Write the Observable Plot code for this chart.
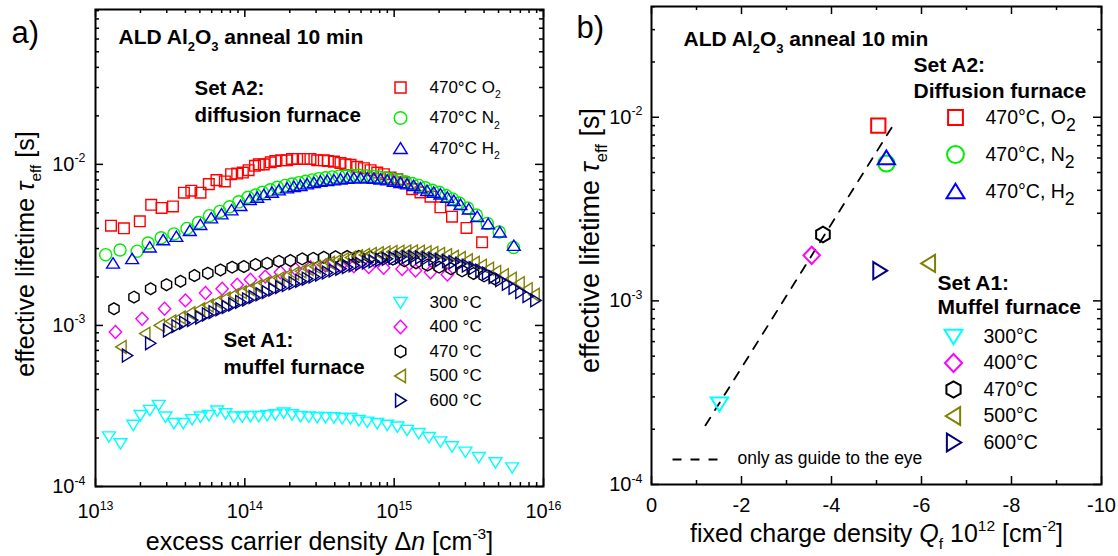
<!DOCTYPE html>
<html><head><meta charset="utf-8">
<script src="https://cdn.jsdelivr.net/npm/d3@7"></script>
<script src="https://cdn.jsdelivr.net/npm/@observablehq/plot@0.6"></script>
<style>
body{margin:0;background:#fff;}
#wrap{position:relative;width:1118px;height:556px;overflow:hidden;background:#fff;}
#wrap svg{position:absolute;top:0;}
</style></head><body><div id="wrap"></div>
<script>
// ---------- Panel a data: [excess carrier density (cm^-3), effective lifetime (s)] ----------
const sO2 = [[1.27e13,4.16e-3],[1.55e13,4.01e-3],[1.98e13,4.43e-3],[2.36e13,5.61e-3],[2.77e13,5.36e-3],[3.30e13,5.48e-3],[3.91e13,6.67e-3],[4.38e13,6.86e-3],[5.05e13,6.67e-3],[5.74e13,7.54e-3],[6.46e13,7.98e-3],[7.35e13,7.83e-3],[8.09e13,8.69e-3],[8.89e13,8.77e-3],[9.7e13,8.9e-3],[1.06e14,9.2e-3],[1.17e14,9.8e-3],[1.24e14,1.0e-2],[1.34e14,1.0e-2],[1.49e14,1.03e-2],[1.60e14,1.05e-2],[1.75e14,1.06e-2],[1.92e14,1.06e-2],[2.07e14,1.08e-2],[2.24e14,1.08e-2],[2.48e14,1.08e-2],[2.75e14,1.08e-2],[3.05e14,1.06e-2],[3.38e14,1.06e-2],[3.6e14,1.05e-2],[3.95e14,1.04e-2],[4.37e14,1.02e-2],[4.72e14,1.0e-2],[5.1e14,9.93e-3],[5.65e14,9.66e-3],[6.27e14,9.47e-3],[6.95e14,9.2e-3],[7.7e14,8.9e-3],[8.53e14,8.69e-3],[9.45e14,8.28e-3],[1.05e15,8.09e-3],[1.16e15,7.73e-3],[1.32e15,7.02e-3],[1.5e15,6.7e-3],[1.75e15,6.3e-3],[2.04e15,5.41e-3],[2.44e15,4.73e-3],[3.05e15,4.03e-3],[3.88e15,3.28e-3]];
const sN2 = [[1.17e13,2.75e-3],[1.46e13,2.94e-3],[1.9e13,2.89e-3],[2.25e13,3.25e-3],[2.75e13,3.5e-3],[3.35e13,3.7e-3],[4.1e13,4.0e-3],[4.9e13,4.35e-3],[5.8e13,4.8e-3],[6.8e13,5.1e-3],[7.9e13,5.45e-3],[9.1e13,5.85e-3],[1.05e14,6.25e-3],[1.18e14,6.45e-3],[1.31e14,6.7e-3],[1.48e14,6.95e-3],[1.65e14,7.2e-3],[1.86e14,7.4e-3],[2.07e14,7.55e-3],[2.3e14,7.7e-3],[2.55e14,7.85e-3],[2.83e14,8.0e-3],[3.13e14,8.15e-3],[3.47e14,8.25e-3],[3.85e14,8.35e-3],[4.27e14,8.45e-3],[4.73e14,8.5e-3],[5.25e14,8.55e-3],[5.8e14,8.55e-3],[6.45e14,8.5e-3],[7.15e14,8.45e-3],[7.9e14,8.35e-3],[8.75e14,8.25e-3],[9.7e14,8.1e-3],[1.08e15,7.95e-3],[1.19e15,7.8e-3],[1.32e15,7.6e-3],[1.46e15,7.4e-3],[1.62e15,7.15e-3],[1.8e15,6.9e-3],[2.0e15,6.7e-3],[2.22e15,6.4e-3],[2.46e15,6.1e-3],[2.73e15,5.75e-3],[3.1e15,5.35e-3],[3.55e15,4.85e-3],[4.2e15,4.3e-3],[5.05e15,3.8e-3],[6.3e15,3.05e-3]];
const sH2 = [[1.31e13,2.43e-3],[1.76e13,2.59e-3],[2.31e13,3.06e-3],[2.84e13,3.39e-3],[3.48e13,3.56e-3],[4.28e13,3.87e-3],[5.04e13,4.22e-3],[5.95e13,4.64e-3],[6.98e13,4.91e-3],[8.14e13,5.2e-3],[9.35e13,5.53e-3],[1.08e14,6.03e-3],[1.21e14,6.23e-3],[1.34e14,6.47e-3],[1.52e14,6.69e-3],[1.69e14,6.92e-3],[1.92e14,7.12e-3],[2.13e14,7.26e-3],[2.36e14,7.36e-3],[2.61e14,7.54e-3],[2.9e14,7.68e-3],[3.21e14,7.83e-3],[3.56e14,7.91e-3],[3.95e14,7.98e-3],[4.37e14,8.09e-3],[4.85e14,8.17e-3],[5.37e14,8.21e-3],[5.96e14,8.21e-3],[6.6e14,8.21e-3],[7.31e14,8.17e-3],[8.1e14,8.09e-3],[8.98e14,7.98e-3],[9.95e14,7.83e-3],[1.1e15,7.68e-3],[1.22e15,7.54e-3],[1.35e15,7.36e-3],[1.5e15,7.12e-3],[1.66e15,6.86e-3],[1.84e15,6.69e-3],[2.04e15,6.53e-3],[2.27e15,6.23e-3],[2.51e15,5.94e-3],[2.78e15,5.61e-3],[3.16e15,5.27e-3],[3.6e15,4.73e-3],[4.26e15,4.26e-3],[5.1e15,3.79e-3],[6.33e15,3.13e-3]];
const s300 = [[1.23e13,2.04e-4],[1.47e13,1.85e-4],[1.79e13,2.41e-4],[2.0e13,2.77e-4],[2.31e13,2.98e-4],[2.65e13,3.2e-4],[2.94e13,2.71e-4],[3.35e13,2.47e-4],[3.87e13,2.47e-4],[4.44e13,2.61e-4],[5.05e13,2.71e-4],[5.74e13,2.77e-4],[6.53e13,2.95e-4],[7.43e13,2.84e-4],[8.44e13,2.71e-4],[9.6e13,2.71e-4],[1.09e14,2.73e-4],[1.24e14,2.73e-4],[1.41e14,2.77e-4],[1.6e14,2.8e-4],[1.82e14,2.87e-4],[2.07e14,2.8e-4],[2.36e14,2.73e-4],[2.68e14,2.71e-4],[3.05e14,2.69e-4],[3.47e14,2.69e-4],[3.95e14,2.68e-4],[4.49e14,2.65e-4],[5.1e14,2.65e-4],[5.8e14,2.58e-4],[6.6e14,2.52e-4],[7.7e14,2.47e-4],[8.98e14,2.41e-4],[1.05e15,2.35e-4],[1.22e15,2.24e-4],[1.46e15,2.14e-4],[1.71e15,2.02e-4],[2.04e15,1.9e-4],[2.44e15,1.77e-4],[3.0e15,1.64e-4],[3.69e15,1.52e-4],[4.77e15,1.41e-4],[6.17e15,1.31e-4]];
const s400 = [[1.36e13,9.1e-4],[2.05e13,1.1e-3],[2.9e13,1.27e-3],[4.0e13,1.43e-3],[5.45e13,1.59e-3],[7.05e13,1.69e-3],[8.89e13,1.79e-3],[1.09e14,1.92e-3],[1.37e14,2.01e-3],[1.73e14,2.14e-3],[2.18e14,2.24e-3],[2.75e14,2.3e-3],[3.47e14,2.35e-3],[4.37e14,2.35e-3],[5.37e14,2.33e-3],[6.76e14,2.3e-3],[8.5e14,2.28e-3],[1.13e15,2.24e-3],[1.39e15,2.19e-3],[1.75e15,2.14e-3],[2.27e15,2.07e-3]];
const s470 = [[1.33e13,1.27e-3],[1.81e13,1.5e-3],[2.34e13,1.69e-3],[2.99e13,1.79e-3],[3.71e13,1.88e-3],[4.6e13,2.04e-3],[5.65e13,2.11e-3],[6.87e13,2.21e-3],[8.22e13,2.3e-3],[9.85e13,2.32e-3],[1.18e14,2.39e-3],[1.41e14,2.43e-3],[1.69e14,2.5e-3],[2.02e14,2.53e-3],[2.42e14,2.59e-3],[2.87e14,2.61e-3],[3.38e14,2.65e-3],[4.05e14,2.67e-3],[4.85e14,2.68e-3],[5.8e14,2.68e-3],[6.9e14,2.66e-3],[8.2e14,2.63e-3],[9.8e14,2.58e-3],[1.17e15,2.52e-3],[1.4e15,2.45e-3],[1.67e15,2.37e-3],[2.0e15,2.3e-3],[2.4e15,2.25e-3],[2.85e15,2.18e-3],[3.4e15,2.1e-3],[4.0e15,2.03e-3],[4.7e15,1.95e-3]];
const s500 = [[1.49e13,7.35e-4],[2.15e13,8.9e-4],[2.69e13,1.0e-3],[3.2e13,1.06e-3],[3.7e13,1.12e-3],[4.3e13,1.19e-3],[5.0e13,1.26e-3],[5.7e13,1.33e-3],[6.5e13,1.4e-3],[7.4e13,1.47e-3],[8.4e13,1.54e-3],[9.5e13,1.61e-3],[1.07e14,1.68e-3],[1.2e14,1.75e-3],[1.35e14,1.82e-3],[1.52e14,1.89e-3],[1.7e14,1.96e-3],[1.9e14,2.03e-3],[2.13e14,2.1e-3],[2.38e14,2.17e-3],[2.66e14,2.24e-3],[2.97e14,2.31e-3],[3.32e14,2.38e-3],[3.7e14,2.45e-3],[4.13e14,2.52e-3],[4.6e14,2.58e-3],[5.13e14,2.64e-3],[5.7e14,2.69e-3],[6.35e14,2.74e-3],[7.05e14,2.78e-3],[7.85e14,2.81e-3],[8.7e14,2.84e-3],[9.7e14,2.86e-3],[1.08e15,2.87e-3],[1.2e15,2.88e-3],[1.33e15,2.88e-3],[1.48e15,2.87e-3],[1.64e15,2.85e-3],[1.82e15,2.82e-3],[2.02e15,2.78e-3],[2.25e15,2.73e-3],[2.5e15,2.67e-3],[2.78e15,2.62e-3],[3.1e15,2.54e-3],[3.45e15,2.45e-3],[3.85e15,2.35e-3],[4.3e15,2.25e-3],[4.8e15,2.15e-3],[5.4e15,2.05e-3],[6.1e15,1.95e-3],[6.9e15,1.83e-3],[7.8e15,1.68e-3],[8.7e15,1.55e-3]];
const s600 = [[1.63e13,6.5e-4],[2.33e13,7.75e-4],[3.07e13,9.3e-4],[3.5e13,9.9e-4],[3.94e13,1.04e-3],[4.45e13,1.08e-3],[5.05e13,1.12e-3],[5.6e13,1.17e-3],[6.2e13,1.21e-3],[6.9e13,1.26e-3],[7.6e13,1.3e-3],[8.4e13,1.35e-3],[9.35e13,1.4e-3],[1.04e14,1.45e-3],[1.15e14,1.5e-3],[1.28e14,1.56e-3],[1.41e14,1.61e-3],[1.56e14,1.67e-3],[1.73e14,1.73e-3],[1.92e14,1.78e-3],[2.13e14,1.83e-3],[2.36e14,1.89e-3],[2.61e14,1.95e-3],[2.9e14,2.01e-3],[3.21e14,2.07e-3],[3.56e14,2.13e-3],[3.95e14,2.19e-3],[4.38e14,2.25e-3],[4.85e14,2.3e-3],[5.38e14,2.36e-3],[5.96e14,2.41e-3],[6.6e14,2.46e-3],[7.31e14,2.5e-3],[8.1e14,2.55e-3],[8.98e14,2.59e-3],[9.95e14,2.62e-3],[1.1e15,2.65e-3],[1.22e15,2.66e-3],[1.35e15,2.66e-3],[1.5e15,2.64e-3],[1.66e15,2.62e-3],[1.84e15,2.59e-3],[2.04e15,2.55e-3],[2.27e15,2.51e-3],[2.51e15,2.47e-3],[2.78e15,2.41e-3],[3.08e15,2.35e-3],[3.42e15,2.27e-3],[3.79e15,2.19e-3],[4.2e15,2.1e-3],[4.65e15,2.0e-3],[5.15e15,1.91e-3],[5.71e15,1.81e-3],[6.33e15,1.71e-3],[7.02e15,1.61e-3],[7.85e15,1.52e-3],[8.84e15,1.43e-3]];

// ---------- Panel b data ----------
const bSeries = ["O2","N2","H2","300","400","470","500","600"];
const bQf     = [-5.04, -5.22, -5.22, -1.51, -3.56, -3.81, -6.16, -5.07];
const bTau    = [9.0e-3, 5.6e-3, 6.0e-3, 2.75e-4, 1.77e-3, 2.3e-3, 1.6e-3, 1.46e-3];
const guideQf  = [-1.2, -5.4];
const guideTau = [2.1e-4, 9.3e-3];

// ---------- ticks / labels ----------
const xMajorA = [1e13, 1e14, 1e15, 1e16];
const yMajorA = [1e-4, 1e-3, 1e-2];
const yMajorB = [1e-4, 1e-3, 1e-2];
const xMajorB = [0, -2, -4, -6, -8, -10];
const xMinorB = [-1, -3, -5, -7, -9];
const legA2 = ["470°C O_{2}", "470°C N_{2}", "470°C H_{2}"];
const legA1 = ["300 °C", "400 °C", "470 °C", "500 °C", "600 °C"];
const legB2 = ["470°C, O_[2]", "470°C, N_[2]", "470°C, H_[2]"];
const legB1 = ["300°C", "400°C", "470°C", "500°C", "600°C"];

// ---------- styling ----------
const FONT = "'Liberation Sans', Arial, Helvetica, sans-serif";
const W = 559, H = 556;
function poly(pts){return {draw(c,size){const s=Math.sqrt(size/Math.PI); c.moveTo(pts[0][0]*s,pts[0][1]*s); for(let i=1;i<pts.length;i++) c.lineTo(pts[i][0]*s,pts[i][1]*s); c.closePath();}};}
const SYM = {
  square: poly([[-0.95,-0.95],[0.95,-0.95],[0.95,0.95],[-0.95,0.95]]),
  circle: {draw(c,size){const s=Math.sqrt(size/Math.PI)*1.08; c.moveTo(s,0); c.arc(0,0,s,0,2*Math.PI); c.closePath();}},
  up: poly([[0,-1.0],[1.15,0.85],[-1.15,0.85]]),
  down: poly([[0,1.0],[1.15,-0.85],[-1.15,-0.85]]),
  left: poly([[-1.0,0],[0.85,-1.15],[0.85,1.15]]),
  right: poly([[1.0,0],[-0.85,-1.15],[-0.85,1.15]]),
  diamond: poly([[0,-1.15],[1.1,0],[0,1.15],[-1.1,0]]),
  hexagon: poly(d3.range(6).map(k=>[1.05*Math.cos(-Math.PI/2+k*Math.PI/3),1.05*Math.sin(-Math.PI/2+k*Math.PI/3)])),
  dash: {draw(c){for(let k=0;k<3;k++){c.moveTo(-22.5+k*18,0);c.lineTo(-13.5+k*18,0);}}}
};
const STY = {
  O2:{sym:SYM.square,color:"#ff0000"}, N2:{sym:SYM.circle,color:"#00ee00"}, H2:{sym:SYM.up,color:"#0000ff"},
  "300":{sym:SYM.down,color:"#00ffff"}, "400":{sym:SYM.diamond,color:"#ff00ff"}, "470":{sym:SYM.hexagon,color:"#000000"},
  "500":{sym:SYM.left,color:"#808000"}, "600":{sym:SYM.right,color:"#000080"}
};

function txt(s, dx, dy, o={}) {
  return Plot.text([s], {frameAnchor:"top-left", dx, dy, textAnchor:"start", lineAnchor:"middle", fontSize:17, fill:"black", ...o});
}
function legendDot(key, dx, dy, r, sw) {
  return Plot.dot([0], {frameAnchor:"top-left", dx, dy, r, symbol:STY[key].sym, stroke:STY[key].color, fill:"none", strokeWidth:sw});
}
function frameTicks(iw, ih, xMaj, xMin, yMaj, yMin) {
  const o = {stroke:"black", strokeWidth:1.5};
  return [
    Plot.tickY(yMaj, {y:d=>d, insetRight: iw-8, ...o}), Plot.tickY(yMaj, {y:d=>d, insetLeft: iw-8, ...o}),
    Plot.tickY(yMin, {y:d=>d, insetRight: iw-4, ...o}), Plot.tickY(yMin, {y:d=>d, insetLeft: iw-4, ...o}),
    Plot.tickX(xMaj, {x:d=>d, insetTop: ih-8, ...o}), Plot.tickX(xMaj, {x:d=>d, insetBottom: ih-8, ...o}),
    Plot.tickX(xMin, {x:d=>d, insetTop: ih-4, ...o}), Plot.tickX(xMin, {x:d=>d, insetBottom: ih-4, ...o})
  ];
}
function minorLog(lo, hi, max) {
  const out = [];
  for (let e = lo; e <= hi; e++) for (let m = 2; m <= 9; m++) { const v = m * Math.pow(10, e); if (v < max) out.push(v); }
  return out;
}
const sup = d => "10^{" + Math.round(Math.log10(d)) + "}";
const MID = {textAnchor: "middle", lineAnchor: "middle"};

// ---------- Panel a ----------
const mA = {l:95, r:16, t:9, b:70};
const iwA = W - mA.l - mA.r, ihA = H - mA.t - mA.b;
const seriesA = [["O2",sO2],["N2",sN2],["H2",sH2],["300",s300],["400",s400],["470",s470],["500",s500],["600",s600]];
const plotA = Plot.plot({
  width: W, height: H, marginLeft: mA.l, marginRight: mA.r, marginTop: mA.t, marginBottom: mA.b,
  style: {fontFamily: FONT, background: "none", overflow: "visible"},
  x: {type: "log", domain: [1e13, 1e16], axis: null},
  y: {type: "log", domain: [1e-4, 0.0915], axis: null},
  marks: [
    ...seriesA.map(([k, data]) => Plot.dot(data, {x: d => d[0], y: d => d[1], symbol: STY[k].sym, r: 5.6, stroke: STY[k].color, fill: "none", strokeWidth: 1.4})),
    Plot.frame({stroke: "black", strokeWidth: 2}),
    ...frameTicks(iwA, ihA, xMajorA, minorLog(13, 15, 1e16), yMajorA, minorLog(-4, -2, 0.0915)),
    Plot.text(yMajorA, {y: d => d, frameAnchor: "left", textAnchor: "end", lineAnchor: "middle", dx: -10, text: sup, fontSize: 20}),
    Plot.text(xMajorA, {x: d => d, frameAnchor: "bottom", ...MID, dy: 25, text: sup, fontSize: 20}),
    Plot.text(["effective lifetime *τ*_{eff} [s]"], {frameAnchor: "left", ...MID, rotate: -90, dx: -70, dy: 6, fontSize: 25}),
    Plot.text(["excess carrier density Δ*n* [cm^{-3}]"], {frameAnchor: "bottom", ...MID, dy: 55, fontSize: 25}),
    txt("a)", -84, 24, {fontSize: 31}),
    txt("ALD Al_{2}O_{3} anneal 10 min", 23, 28, {fontSize: 21, fontWeight: "bold"}),
    txt("Set A2:", 99, 79, {fontSize: 20.5, fontWeight: "bold"}),
    txt("diffusion furnace", 99, 106, {fontSize: 20.5, fontWeight: "bold"}),
    txt("Set A1:", 128, 331, {fontSize: 20.5, fontWeight: "bold"}),
    txt("muffel furnace", 128, 358, {fontSize: 20.5, fontWeight: "bold"}),
    ...["O2","N2","H2"].map((k, i) => legendDot(k, 305, 78 + i * 30.5, 5.8, 1.5)),
    ...legA2.map((s, i) => txt(s, 334, 78 + i * 30.5)),
    ...["300","400","470","500","600"].map((k, i) => legendDot(k, 305, 293 + i * 24.5, 5.8, 1.5)),
    ...legA1.map((s, i) => txt(s, 334, 293 + i * 24.5))
  ]
});

// ---------- Panel b ----------
const mB = {l:92, r:17, t:6, b:72};
const iwB = W - mB.l - mB.r, ihB = H - mB.t - mB.b;
const guide = guideQf.map((q, i) => ({q, t: guideTau[i]}));
const pointsB = bSeries.map((k, i) => ({k, q: bQf[i], t: bTau[i]}));
const plotB = Plot.plot({
  width: W, height: H, marginLeft: mB.l, marginRight: mB.r, marginTop: mB.t, marginBottom: mB.b,
  style: {fontFamily: FONT, background: "none", overflow: "visible"},
  x: {type: "linear", domain: [0, -10], axis: null},
  y: {type: "log", domain: [1e-4, 0.0401], axis: null},
  marks: [
    Plot.line(guide, {x: "q", y: "t", stroke: "black", strokeWidth: 1.8, strokeDasharray: "9,9"}),
    ...pointsB.map(p => Plot.dot([p], {x: "q", y: "t", symbol: STY[p.k].sym, r: 7.5, stroke: STY[p.k].color, fill: "none", strokeWidth: 2})),
    Plot.frame({stroke: "black", strokeWidth: 2}),
    ...frameTicks(iwB, ihB, xMajorB, xMinorB, yMajorB, minorLog(-4, -2, 0.0401)),
    Plot.text(yMajorB, {y: d => d, frameAnchor: "left", textAnchor: "end", lineAnchor: "middle", dx: -9, text: sup, fontSize: 20}),
    Plot.text(xMajorB, {x: d => d, frameAnchor: "bottom", ...MID, dy: 21, text: d => String(d), fontSize: 20}),
    Plot.text(["effective lifetime *τ*_{eff} [s]"], {frameAnchor: "left", ...MID, rotate: -90, dx: -61, dy: -5, fontSize: 27}),
    Plot.text(["fixed charge density *Q*_{f} 10^{12} [cm^{-2}]"], {frameAnchor: "bottom", ...MID, dy: 49, fontSize: 25}),
    txt("b)", -75, 22, {fontSize: 31}),
    txt("ALD Al_{2}O_{3} anneal 10 min", 32, 33, {fontSize: 21, fontWeight: "bold"}),
    txt("Set A2:", 262, 59, {fontSize: 21, fontWeight: "bold"}),
    txt("Diffusion furnace", 262, 85, {fontSize: 21, fontWeight: "bold"}),
    txt("Set A1:", 286, 277, {fontSize: 21, fontWeight: "bold"}),
    txt("Muffel furnace", 286, 301, {fontSize: 21, fontWeight: "bold"}),
    ...["O2","N2","H2"].map((k, i) => legendDot(k, 304, 111 + i * 37, 7.8, 2)),
    ...legB2.map((s, i) => txt(s, 334, 111 + i * 37, {fontSize: 19.5})),
    ...["300","400","470","500","600"].map((k, i) => legendDot(k, 302, 330 + i * 26.5, 7.8, 2)),
    ...legB1.map((s, i) => txt(s, 332, 330 + i * 26.5, {fontSize: 19.5})),
    Plot.dot([0], {frameAnchor: "top-left", dx: 694.5 - 651, dy: 453, symbol: SYM.dash, r: 5, stroke: "black", fill: "none", strokeWidth: 1.8}),
    txt("only as guide to the eye", 86, 452, {fontSize: 17.5})
  ]
});

const wrap = document.getElementById("wrap");
plotA.style.left = "0px"; plotB.style.left = W + "px";
wrap.appendChild(plotA); wrap.appendChild(plotB);

// rich text: _{sub}, _[big sub], ^{sup}, *italic*
function richify(root) {
  d3.select(root).selectAll("text").each(function () {
    const el = this, s = el.textContent;
    if (!/[_^*]/.test(s)) return;
    const fs = parseFloat(getComputedStyle(el).fontSize) || 16;
    const parts = s.split(/(_\{[^}]*\}|_\[[^\]]*\]|\^\{[^}]*\}|\*[^*]*\*)/).filter(p => p !== "");
    el.textContent = "";
    let shift = 0;
    for (const p of parts) {
      const t = document.createElementNS("http://www.w3.org/2000/svg", "tspan");
      let target = 0, str = p;
      if (p.startsWith("_{")) { target = 0.3 * fs; str = p.slice(2, -1); t.setAttribute("font-size", (0.62 * fs).toFixed(1)); }
      else if (p.startsWith("_[")) { target = 0.35 * fs; str = p.slice(2, -1); t.setAttribute("font-size", (0.9 * fs).toFixed(1)); }
      else if (p.startsWith("^{")) { target = -0.42 * fs; str = p.slice(2, -1); t.setAttribute("font-size", (0.62 * fs).toFixed(1)); }
      else if (p.startsWith("*")) { str = p.slice(1, -1); t.setAttribute("font-style", "italic"); }
      const dy = target - shift;
      if (dy) t.setAttribute("dy", dy.toFixed(1));
      shift = target;
      t.textContent = str;
      el.appendChild(t);
    }
  });
}
richify(plotA); richify(plotB);
</script></body></html>
